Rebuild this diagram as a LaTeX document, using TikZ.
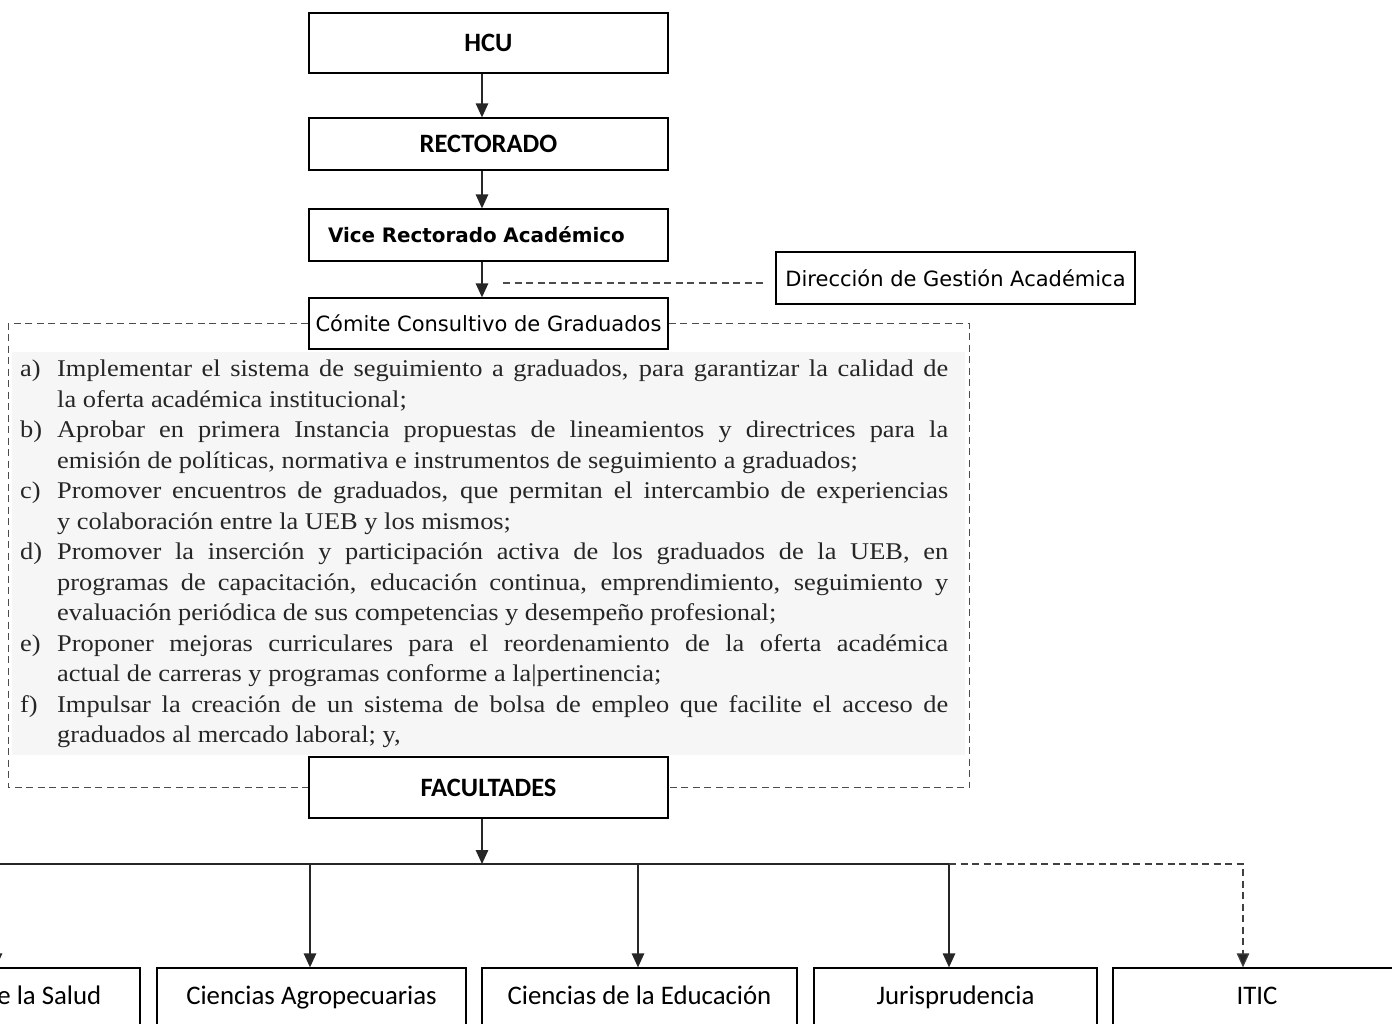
\documentclass[tikz,border=0pt]{standalone}
\usepackage{fontspec}
\setmainfont{Liberation Serif}
\newfontfamily\bodyfont[FakeStretch=1.1]{Liberation Serif}
\newfontfamily\calib{Carlito}
\newfontfamily\tahom{DejaVu Sans}
\usetikzlibrary{arrows.meta,calc}
\definecolor{txtgray}{HTML}{262626}
\definecolor{panelgray}{HTML}{F6F6F6}
\tikzset{
  box/.style={draw, line width=1.3pt, minimum width=359pt, inner sep=0pt, text=black},
  headbold/.style={font=\calib\bfseries\fontsize{26.5}{30}\selectfont},
  tahomtxt/.style={font=\tahom\fontsize{21}{25}\selectfont},
  tahombold/.style={font=\tahom\bfseries\fontsize{19.9}{24}\selectfont},
  facbox/.style={draw, line width=1.3pt, minimum height=68pt, inner sep=0pt, text height=0.68em, text depth=0.2em, font=\calib\fontsize{26.8}{30}\selectfont},
  conn/.style={line width=1.4pt, draw=black!85},
  arr/.style={conn, -{Triangle[length=14pt,width=12.5pt]}},
  dframe/.style={line width=1.2pt, draw=black!70, dash pattern=on 7pt off 4.5pt},
  darr/.style={dframe, draw=black!75, -{Triangle[length=14pt,width=12.5pt,fill=black!85]}},
}
\begin{document}
\begin{tikzpicture}[x=1pt,y=-1pt]
\useasboundingbox (0,0) rectangle (1392,1023);
\coordinate (axis) at (482,0);

% top chain
\node[box, headbold, minimum height=60pt] (hcu) at (488.5,43) {HCU};
\node[box, headbold, minimum height=52pt] (rect) at (488.5,144) {RECTORADO};
\node[box, tahombold, minimum height=52pt, text width=321pt, inner xsep=19pt, align=left] (vice) at (488.5,235) {Vice Rectorado Académico};
\node[box, tahomtxt, minimum height=52pt] (dga) at (955.5,278) {Dirección de Gestión Académica};
\node[box, tahomtxt, minimum height=51pt, fill=white] (ccg) at (488.5,323.5) {Cómite Consultivo de Graduados};
\node[box, headbold, minimum height=61pt, fill=white] (fac) at (488.5,787.5) {FACULTADES};

\draw[arr] (hcu.south -| axis) -- (rect.north -| axis);
\draw[arr] (rect.south -| axis) -- (vice.north -| axis);
\draw[arr] (vice.south -| axis) -- (ccg.north -| axis);

\coordinate (dstart) at (503,283);
\draw[dframe, shorten >=9pt] (dstart) -- (dstart -| dga.west);

% panel with functions
\fill[panelgray] (12,352) rectangle (965,755);
\node[anchor=north west, text width=928pt, inner sep=0pt, align=justify, text=txtgray,
      font=\bodyfont\fontsize{24}{30.5}\selectfont] (items) at (20,360) {%
\noindent\hangindent=37pt\hangafter=1\makebox[37pt][l]{a)}Implementar el sistema de seguimiento a graduados, para garantizar la calidad de\linebreak la oferta académica institucional;\par
\noindent\hangindent=37pt\hangafter=1\makebox[37pt][l]{b)}Aprobar en primera Instancia propuestas de lineamientos y directrices para la\linebreak emisión de políticas, normativa e instrumentos de seguimiento a graduados;\par
\noindent\hangindent=37pt\hangafter=1\makebox[37pt][l]{c)}Promover encuentros de graduados, que permitan el intercambio de experiencias\linebreak y colaboración entre la UEB y los mismos;\par
\noindent\hangindent=37pt\hangafter=1\makebox[37pt][l]{d)}Promover la inserción y participación activa de los graduados de la UEB, en\linebreak programas de capacitación, educación continua, emprendimiento, seguimiento y\linebreak evaluación periódica de sus competencias y desempeño profesional;\par
\noindent\hangindent=37pt\hangafter=1\makebox[37pt][l]{e)}Proponer mejoras curriculares para el reordenamiento de la oferta académica\linebreak actual de carreras y programas conforme a la|pertinencia;\par
\noindent\hangindent=37pt\hangafter=1\makebox[37pt][l]{f)}Impulsar la creación de un sistema de bolsa de empleo que facilite el acceso de\linebreak graduados al mercado laboral; y,\par};

% dashed frame
\draw[dframe] (ccg.west) -- ++(-300,0) |- (fac.west);
\draw[dframe] (ccg.east) -- ++(301,0) |- (fac.east);

% faculties
\node[facbox, minimum width=290pt] (salud) at (-5,1002) {Ciencias de la Salud};
\node[facbox, minimum width=309pt] (agro) at (311.5,1002) {Ciencias Agropecuarias};
\node[facbox, minimum width=315pt] (edu) at (639.5,1002) {Ciencias de la Educación};
\node[facbox, minimum width=283pt] (juris) at (955.5,1002) {Jurisprudencia};
\node[facbox, minimum width=288pt] (itic) at (1257,1002) {ITIC};

\coordinate (bus) at (482,864);
\coordinate (t1) at (-4,864);
\coordinate (t2) at (310,864);
\coordinate (t3) at (638,864);
\coordinate (t4) at (949,864);
\coordinate (t5) at (1243,864);
\coordinate (bl) at (-20,864);

\draw[arr] (fac.south -| axis) -- (bus);
\draw[conn] (bl) -- (t4);
\draw[arr] (t1) -- (t1 |- salud.north);
\draw[arr] (t2) -- (t2 |- agro.north);
\draw[arr] (t3) -- (t3 |- edu.north);
\draw[arr] (t4) -- (t4 |- juris.north);
\draw[darr] (t4) -- (t5) -- (t5 |- itic.north);
\end{tikzpicture}
\end{document}
